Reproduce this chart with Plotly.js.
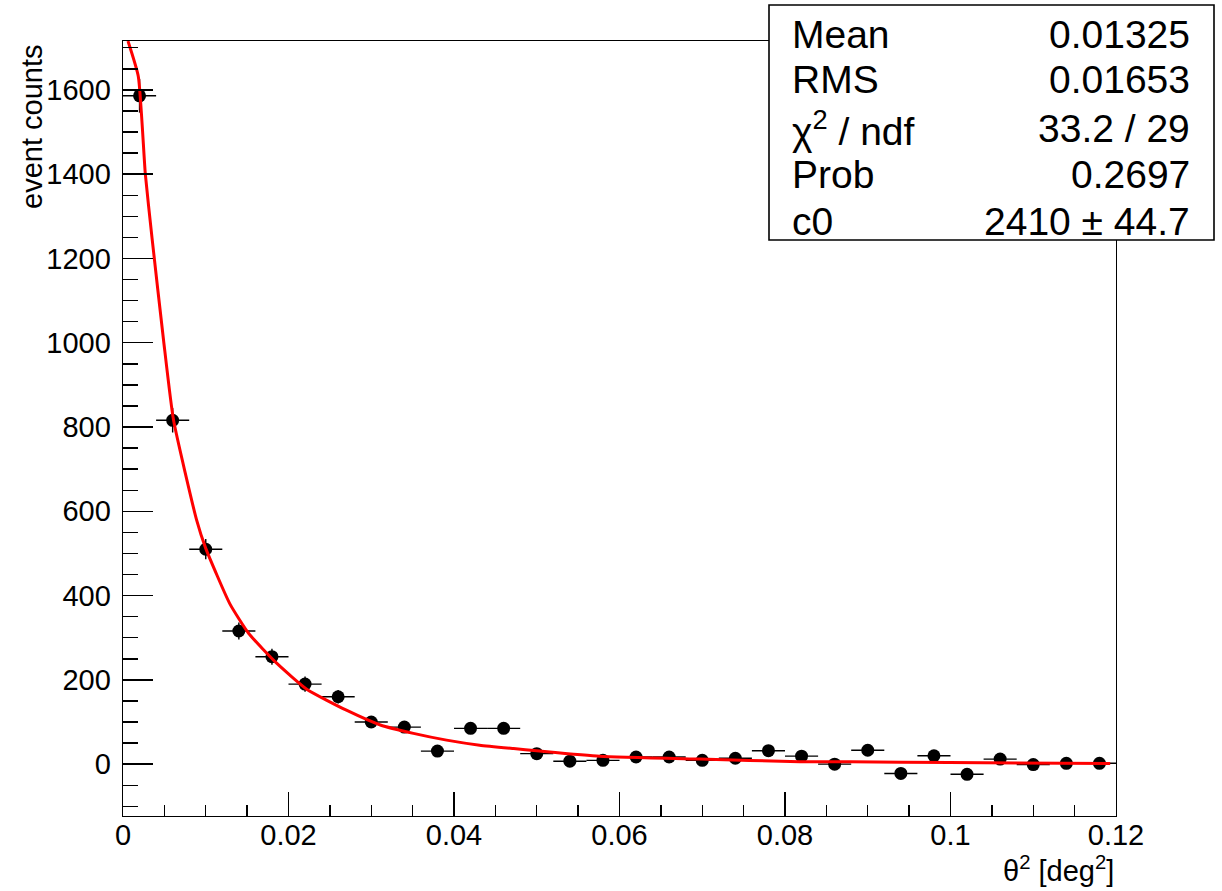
<!DOCTYPE html>
<html>
<head>
<meta charset="utf-8">
<script src="https://cdn.plot.ly/plotly-3.0.1.min.js"></script>
<style>
  html, body { margin: 0; padding: 0; background: #fff; }
  #chart { width: 1222px; height: 891px; }
</style>
</head>
<body>
<div id="chart"></div>
<script>
// Histogram bin centres (theta^2, deg^2) and background-subtracted counts
const binCenters = [0.002, 0.006, 0.010, 0.014, 0.018, 0.022, 0.026, 0.030, 0.034, 0.038,
                    0.042, 0.046, 0.050, 0.054, 0.058, 0.062, 0.066, 0.070, 0.074, 0.078,
                    0.082, 0.086, 0.090, 0.094, 0.098, 0.102, 0.106, 0.110, 0.114, 0.118];
const counts = [1586, 816, 510, 316, 255, 190, 160, 100, 88, 31,
                85, 85, 25, 7, 9, 17, 17, 9, 14, 32,
                19, 0, 33, -22, 20, -24, 12, -1, 2, 2];
const countErrors = [40, 29, 24, 20, 19, 18, 16, 13, 12, 10,
                     12, 12, 10, 9, 9, 9, 9, 9, 9, 9,
                     9, 9, 9, 9, 9, 9, 9, 9, 9, 9];
const binHalfWidth = 0.002;

// Fit curve
const fitX = [0.0006, 0.00185, 0.0027, 0.0035, 0.0049, 0.0061, 0.0089, 0.0100, 0.0129, 0.0152,
              0.0186, 0.0222, 0.0270, 0.0311, 0.0351, 0.0391, 0.0431, 0.0472, 0.0500, 0.0576,
              0.0697, 0.0818, 0.0879, 0.0999, 0.1193];
const fitY = [1716, 1632, 1400, 1250, 1006, 817, 579, 512, 381, 310,
              239, 178, 128, 93, 73, 57, 45, 37, 32, 19,
              12, 6, 5.5, 4, 1.6];

// Stats box
const statLabels = ["Mean", "RMS", "χ<sup>2</sup> / ndf", "Prob", "c0"];
const statValues = ["0.01325", "0.01653", "33.2 / 29", "0.2697", "2410 ± 44.7"];

const xTitle = "θ<sup>2</sup> [deg<sup>2</sup>]";
const yTitle = "event counts";

const FONT = "Liberation Sans, Arial, Helvetica, sans-serif";

const dataTrace = {
  x: binCenters,
  y: counts,
  type: "scatter",
  mode: "markers",
  marker: { color: "#000", size: 13, symbol: "circle" },
  error_x: { type: "constant", value: binHalfWidth, color: "#000", thickness: 1.4, width: 0 },
  error_y: { type: "data", array: countErrors, color: "#000", thickness: 1.4, width: 0 },
  hoverinfo: "x+y",
  cliponaxis: true
};

const fitTrace = {
  x: fitX,
  y: fitY,
  type: "scatter",
  mode: "lines",
  line: { color: "#ff0000", width: 3, shape: "spline", smoothing: 0.5 },
  hoverinfo: "skip"
};

// plot area in pixels: left 123, right 1116, top 41, bottom 816
const L = 123, R = 1116, T = 41, B = 816;
const W = R - L, H = B - T;
const px = v => (v - L) / W;
const py = v => (B - v) / H;

const annotations = [];
const rowY = [34, 80, 128, 175, 221];
statLabels.forEach((lab, i) => {
  annotations.push({
    xref: "paper", yref: "paper", x: px(790), y: py(rowY[i]),
    xanchor: "left", yanchor: "middle", showarrow: false,
    text: lab, font: { family: FONT, size: 39, color: "#000" }
  });
  annotations.push({
    xref: "paper", yref: "paper", x: px(1192), y: py(rowY[i]),
    xanchor: "right", yanchor: "middle", showarrow: false,
    text: statValues[i], font: { family: FONT, size: 39, color: "#000" }
  });
});
annotations.push({
  xref: "paper", yref: "paper", x: 1, y: py(869),
  xanchor: "right", yanchor: "middle", showarrow: false,
  text: xTitle, font: { family: FONT, size: 29, color: "#000" }
});
annotations.push({
  xref: "paper", yref: "paper", x: px(32), y: 1 - (43 - T) / H,
  xanchor: "center", yanchor: "top", showarrow: false, textangle: -90,
  text: yTitle, font: { family: FONT, size: 29, color: "#000" }
});

const layout = {
  width: 1222,
  height: 891,
  margin: { l: L, r: 1222 - R, t: T, b: 891 - B, pad: 0 },
  paper_bgcolor: "#fff",
  plot_bgcolor: "#fff",
  showlegend: false,
  font: { family: FONT, size: 29, color: "#000" },
  xaxis: {
    range: [0, 0.12],
    tick0: 0, dtick: 0.02,
    ticks: "inside", ticklen: 24, tickwidth: 1.4, tickcolor: "#000",
    minor: { ticks: "inside", dtick: 0.005, tick0: 0, ticklen: 11, tickwidth: 1.4, tickcolor: "#000" },
    showgrid: false, zeroline: false,
    showline: true, mirror: true, linecolor: "#000", linewidth: 1.4,
    tickfont: { family: FONT, size: 29, color: "#000" },
    ticklabelstandoff: -7
  },
  yaxis: {
    range: [-123, 1716],
    tick0: 0, dtick: 200,
    ticks: "inside", ticklen: 30, tickwidth: 1.4, tickcolor: "#000",
    minor: { ticks: "inside", dtick: 50, tick0: 0, ticklen: 15, tickwidth: 1.4, tickcolor: "#000" },
    showgrid: false, zeroline: false,
    showline: true, mirror: true, linecolor: "#000", linewidth: 1.4,
    tickfont: { family: FONT, size: 29, color: "#000" },
    ticklabelstandoff: 5
  },
  shapes: [{
    type: "rect", xref: "paper", yref: "paper", layer: "above",
    x0: px(769), x1: px(1214), y0: py(240), y1: py(5),
    fillcolor: "#fff", line: { color: "#000", width: 1.6 }
  }],
  annotations: annotations
};

Plotly.newPlot("chart", [dataTrace, fitTrace], layout, { displayModeBar: false, staticPlot: true });
</script>
</body>
</html>
